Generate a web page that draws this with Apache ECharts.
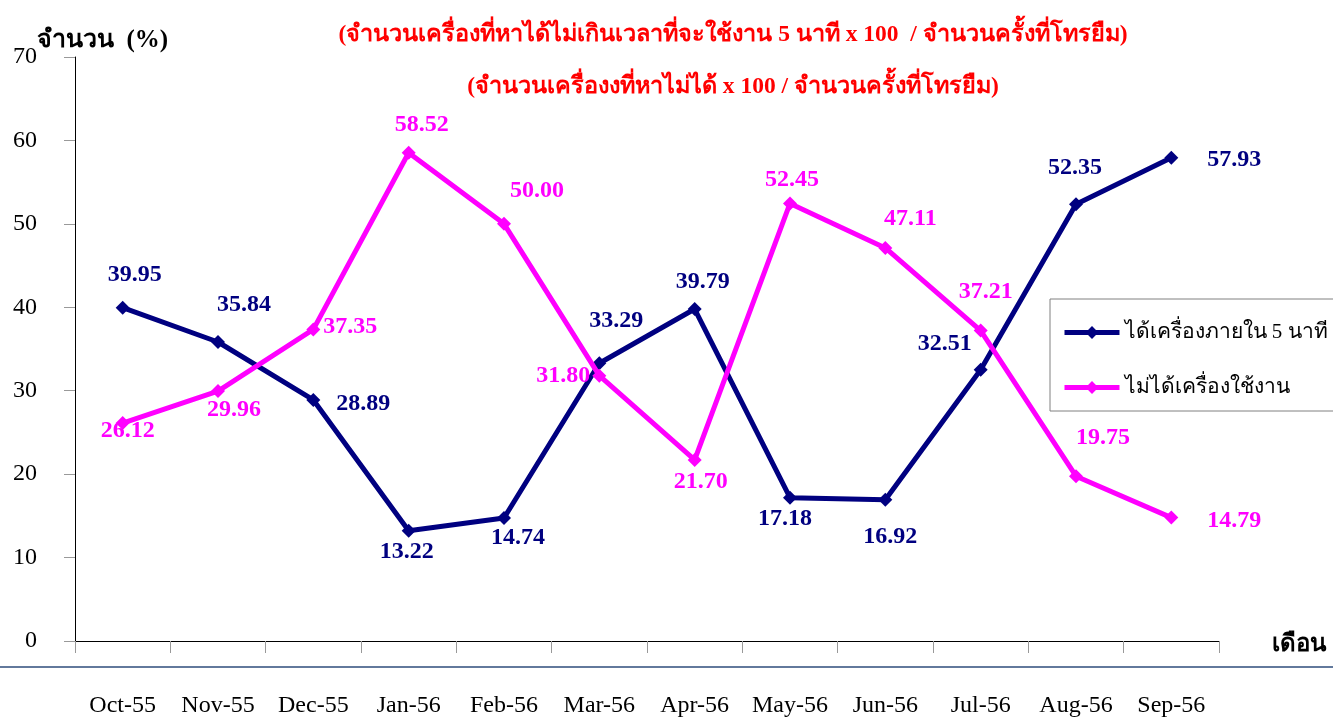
<!DOCTYPE html>
<html>
<head>
<meta charset="utf-8">
<script src="https://cdn.jsdelivr.net/npm/echarts@6/dist/echarts.min.js"></script>
<style>
  html, body { margin: 0; padding: 0; background: #fff; }
  #chart { width: 1333px; height: 722px; }
</style>
</head>
<body>
<div id="chart"></div>
<script>
const months = ['Oct-55', 'Nov-55', 'Dec-55', 'Jan-56', 'Feb-56', 'Mar-56', 'Apr-56', 'May-56', 'Jun-56', 'Jul-56', 'Aug-56', 'Sep-56'];
const within5 = [39.95, 35.84, 28.89, 13.22, 14.74, 33.29, 39.79, 17.18, 16.92, 32.51, 52.35, 57.93];
const notFound = [26.12, 29.96, 37.35, 58.52, 50.00, 31.80, 21.70, 52.45, 47.11, 37.21, 19.75, 14.79];
const names = ['ได้เครื่องภายใน 5 นาที', 'ไม่ได้เครื่องใช้งาน'];

// label offsets (px from the marker centre), tuned by eye
const offNavy = [[12, -33], [26, -37], [50, 4], [-2, 21], [14, 20], [17, -42], [8, -27], [-5, 21], [5, 37], [-36, -26], [-1, -36], [63, 2]];
const offPink = [[5, 8], [16, 19], [37, -3], [13, -28], [33, -33], [-36, 0], [6, 22], [2, -24], [25, -29], [5, -39], [27, -38], [63, 3]];

const serif = '"Liberation Serif", "Times New Roman", "DejaVu Serif", serif';

function withLabels(values, offs) {
    return values.map((v, i) => ({
        value: v,
        label: { position: 'inside', offset: offs[i] }
    }));
}

const chart = echarts.init(document.getElementById('chart'));

chart.setOption({
    animation: false,
    title: {
        text: '(จำนวนเครื่องที่หาได้ไม่เกินเวลาที่จะใช้งาน 5 นาที x 100  / จำนวนครั้งที่โทรยืม)\n(จำนวนเครื่องงที่หาไม่ได้ x 100 / จำนวนครั้งที่โทรยืม)',
        left: 728,
        top: 4,
        textAlign: 'center',
        textStyle: {
            color: '#ff0000',
            fontSize: 23.5,
            fontWeight: 'bold',
            fontFamily: serif,
            lineHeight: 52
        }
    },
    legend: {
        orient: 'vertical',
        left: 1050,
        top: 299,
        padding: [23, 40, 13, 12],
        itemWidth: 55,
        itemHeight: 16,
        itemGap: 34,
        borderColor: '#808080',
        borderWidth: 1,
        lineStyle: { width: 5 },
        textStyle: { fontSize: 21, color: '#000', fontFamily: serif },
        data: names
    },
    grid: { left: 75, right: 114, top: 57, bottom: 81 },
    xAxis: {
        type: 'category',
        data: months,
        boundaryGap: true,
        name: 'เดือน',
        nameLocation: 'end',
        nameGap: 53,
        nameMoveOverlap: false,
        nameTextStyle: { fontSize: 24, fontWeight: 'bold', color: '#000', fontFamily: serif, verticalAlign: 'top', lineHeight: 8 },
        axisLine: { lineStyle: { color: '#000', width: 1 } },
        axisTick: { show: true, inside: false, interval: 0, length: 12, lineStyle: { color: '#999' } },
        axisLabel: { interval: 0, margin: 53, fontSize: 24, color: '#000', fontFamily: serif },
        splitLine: { show: false }
    },
    yAxis: {
        type: 'value',
        min: 0,
        max: 70,
        interval: 10,
        name: 'จำนวน  (%)',
        nameLocation: 'end',
        nameGap: 16,
        nameMoveOverlap: false,
        nameTextStyle: { fontSize: 25, fontWeight: 'bold', color: '#000', fontFamily: serif, align: 'left', verticalAlign: 'middle', padding: [0, 0, 0, -38] },
        axisLine: { show: true, lineStyle: { color: '#000', width: 1 } },
        axisTick: { show: true, length: 11, lineStyle: { color: '#999' } },
        axisLabel: { margin: 38, fontSize: 24, color: '#000', fontFamily: serif },
        splitLine: { show: false }
    },
    series: [
        {
            name: names[0],
            type: 'line',
            data: withLabels(within5, offNavy),
            symbol: 'diamond',
            symbolSize: 14,
            color: '#000080',
            lineStyle: { width: 5, color: '#000080' },
            itemStyle: { color: '#000080' },
            label: {
                show: true,
                color: '#000080',
                fontSize: 24,
                fontWeight: 'bold',
                fontFamily: serif,
                formatter: p => p.value.toFixed(2)
            },
            z: 3
        },
        {
            name: names[1],
            type: 'line',
            data: withLabels(notFound, offPink),
            symbol: 'diamond',
            symbolSize: 14,
            color: '#ff00ff',
            lineStyle: { width: 5, color: '#ff00ff' },
            itemStyle: { color: '#ff00ff' },
            label: {
                show: true,
                color: '#ff00ff',
                fontSize: 24,
                fontWeight: 'bold',
                fontFamily: serif,
                formatter: p => p.value.toFixed(2)
            },
            z: 4
        }
    ],
    graphic: [
        {
            type: 'line',
            shape: { x1: 0, y1: 667, x2: 1333, y2: 667 },
            style: { stroke: '#2e4d7b', lineWidth: 1.5 }
        }
    ]
});
</script>
</body>
</html>
